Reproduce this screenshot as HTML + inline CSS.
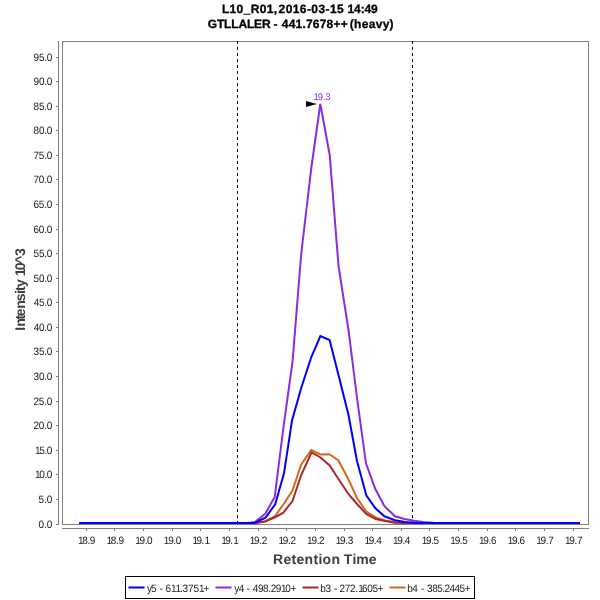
<!DOCTYPE html>
<html><head><meta charset="utf-8"><title>Chromatogram</title>
<style>
html,body{margin:0;padding:0;background:#fff;}
body{width:600px;height:600px;overflow:hidden;font-family:"Liberation Sans",sans-serif;}
svg{display:block;}
text{font-family:"Liberation Sans",sans-serif;text-rendering:geometricPrecision;white-space:pre;}
</style></head><body>
<svg width="600" height="600" viewBox="0 0 600 600">
<rect x="0" y="0" width="600" height="600" fill="#fff"/>
<g shape-rendering="crispEdges" fill="none" stroke="#808080" stroke-width="1">
<rect x="62.5" y="41.5" width="526" height="483"/>
<line x1="58.5" y1="41" x2="58.5" y2="525"/>
<line x1="62" y1="528.5" x2="589" y2="528.5"/>
<line x1="56" y1="524.5" x2="58" y2="524.5"/>
<line x1="56" y1="499.5" x2="58" y2="499.5"/>
<line x1="56" y1="474.5" x2="58" y2="474.5"/>
<line x1="56" y1="450.5" x2="58" y2="450.5"/>
<line x1="56" y1="425.5" x2="58" y2="425.5"/>
<line x1="56" y1="401.5" x2="58" y2="401.5"/>
<line x1="56" y1="376.5" x2="58" y2="376.5"/>
<line x1="56" y1="351.5" x2="58" y2="351.5"/>
<line x1="56" y1="327.5" x2="58" y2="327.5"/>
<line x1="56" y1="302.5" x2="58" y2="302.5"/>
<line x1="56" y1="278.5" x2="58" y2="278.5"/>
<line x1="56" y1="253.5" x2="58" y2="253.5"/>
<line x1="56" y1="229.5" x2="58" y2="229.5"/>
<line x1="56" y1="204.5" x2="58" y2="204.5"/>
<line x1="56" y1="179.5" x2="58" y2="179.5"/>
<line x1="56" y1="155.5" x2="58" y2="155.5"/>
<line x1="56" y1="130.5" x2="58" y2="130.5"/>
<line x1="56" y1="106.5" x2="58" y2="106.5"/>
<line x1="56" y1="81.5" x2="58" y2="81.5"/>
<line x1="56" y1="57.5" x2="58" y2="57.5"/>
<line x1="86.5" y1="529" x2="86.5" y2="531"/>
<line x1="114.5" y1="529" x2="114.5" y2="531"/>
<line x1="143.5" y1="529" x2="143.5" y2="531"/>
<line x1="172.5" y1="529" x2="172.5" y2="531"/>
<line x1="200.5" y1="529" x2="200.5" y2="531"/>
<line x1="229.5" y1="529" x2="229.5" y2="531"/>
<line x1="258.5" y1="529" x2="258.5" y2="531"/>
<line x1="286.5" y1="529" x2="286.5" y2="531"/>
<line x1="315.5" y1="529" x2="315.5" y2="531"/>
<line x1="344.5" y1="529" x2="344.5" y2="531"/>
<line x1="372.5" y1="529" x2="372.5" y2="531"/>
<line x1="401.5" y1="529" x2="401.5" y2="531"/>
<line x1="429.5" y1="529" x2="429.5" y2="531"/>
<line x1="458.5" y1="529" x2="458.5" y2="531"/>
<line x1="487.5" y1="529" x2="487.5" y2="531"/>
<line x1="515.5" y1="529" x2="515.5" y2="531"/>
<line x1="544.5" y1="529" x2="544.5" y2="531"/>
<line x1="573.5" y1="529" x2="573.5" y2="531"/>
</g>
<g shape-rendering="crispEdges" stroke="#000" stroke-width="1" stroke-dasharray="3,3">
<line x1="237.5" y1="41" x2="237.5" y2="524"/>
<line x1="412.5" y1="41" x2="412.5" y2="524"/>
</g>
<polyline fill="none" stroke="#d2691e" stroke-width="2" stroke-linejoin="miter" points="79.2,523 255,523 265,521.5 274.7,516.5 284,503.5 292.5,490.5 301,465 311.2,450 320.5,454.5 329.5,454.2 338.5,460.5 348.5,479.5 357,498 366.3,511.6 375.7,517.4 385,520.4 395,522 404.8,522.8 414,523 580,523"/>
<polyline fill="none" stroke="#a52a2a" stroke-width="2" stroke-linejoin="miter" points="79.2,523 255,523 265,521.5 274.5,517.5 283,513 292.5,501 301.2,475 311.5,452.5 320.5,457.5 329.7,465.5 338.5,479 348,493.5 357,504 366.3,514 375.7,519 385,521 394.5,522.7 404,523 580,523"/>
<polyline fill="none" stroke="#8a2be2" stroke-width="2" stroke-linejoin="miter" points="79.2,523 248,523 255,522 265.3,513.7 274.7,497 283.5,427 292.5,362 301.2,254 311.3,168 320.3,104 329.7,155 338.5,266 348.5,330 357,398 366,463.3 375.2,488.8 384.3,506 395,516.3 404.5,519 414,520.8 423,522 433,522.7 443,523 580,523"/>
<polyline fill="none" stroke="#0000ff" stroke-width="2" stroke-linejoin="miter" points="79.2,523 254.5,523 265.5,517.7 275.2,504.3 284,473.3 292,420.5 301.2,388 311.3,357 320.4,336 329.6,340 338.5,375 348.5,415 357,461 366.3,495.3 375.2,508 384.4,516.3 395,520.3 404.8,522 414,522.7 423,523 580,523"/>
<polygon points="306,101 317,104 306,107" fill="#000"/>
<text transform="translate(25,331) rotate(-90)" x="0.21 4.20 11.47 14.72 22.35 29.80 36.96 40.07 44.09 49.40 54.71 60.87 67.31 75.05" y="0" font-size="14" font-weight="bold" fill="#404040">Intensity 10^3</text>
<rect x="125.5" y="576.5" width="349" height="22" fill="#fff" stroke="#000" stroke-width="1" shape-rendering="crispEdges"/>
<line x1="128.5" y1="587.5" x2="144.5" y2="587.5" stroke="#0000ff" stroke-width="2"/>
<line x1="215.5" y1="587.5" x2="231.5" y2="587.5" stroke="#8a2be2" stroke-width="2"/>
<line x1="302.5" y1="587.5" x2="318.5" y2="587.5" stroke="#a52a2a" stroke-width="2"/>
<line x1="389.5" y1="587.5" x2="405.5" y2="587.5" stroke="#d2691e" stroke-width="2"/>
<text x="221.90 229.59 236.62 243.65 250.68 259.71 266.74 273.77 277.98 278.58 285.67 292.75 299.83 306.91 311.31 318.39 325.48 329.88 336.96 344.05 347.54 354.10 360.65 364.52 371.07" y="13.0" font-size="12" font-weight="bold" fill="#000" stroke="#000" stroke-width="0.3">L10_R01, 2016-03-15 14:49</text>
<text x="207.81 216.96 224.11 231.27 238.42 246.90 254.06 261.88 269.46 273.43 279.42 281.82 288.69 295.57 302.44 305.97 312.85 319.72 326.60 333.47 340.68 347.04 349.80 354.09 361.72 368.69 375.66 382.63 389.60" y="27.8" font-size="12" font-weight="bold" fill="#000" stroke="#000" stroke-width="0.3">GTLLALER - 441.7678++ (heavy)</text>
<text x="273.06 283.47 291.55 296.50 304.58 313.43 318.39 322.57 331.42 339.73 343.84 352.41 356.32 368.79" y="563.8" font-size="14" font-weight="bold" fill="#404040">Retention Time</text>
<text transform="translate(0,528.3) scale(1,1.07)" x="38.61 44.11 46.83" y="0" font-size="10" fill="#202020">0.0</text>
<text transform="translate(0,503.3) scale(1,1.07)" x="38.60 44.11 46.83" y="0" font-size="10" fill="#202020">5.0</text>
<text transform="translate(0,478.3) scale(1,1.07)" x="34.94 39.23 44.42 46.83" y="0" font-size="10" fill="#202020">10.0</text>
<text transform="translate(0,454.3) scale(1,1.07)" x="34.94 39.23 44.42 46.83" y="0" font-size="10" fill="#202020">15.0</text>
<text transform="translate(0,429.3) scale(1,1.07)" x="33.50 38.87 44.24 46.83" y="0" font-size="10" fill="#202020">20.0</text>
<text transform="translate(0,405.3) scale(1,1.07)" x="33.50 38.87 44.24 46.83" y="0" font-size="10" fill="#202020">25.0</text>
<text transform="translate(0,380.3) scale(1,1.07)" x="33.62 38.95 44.28 46.83" y="0" font-size="10" fill="#202020">30.0</text>
<text transform="translate(0,355.3) scale(1,1.07)" x="33.62 38.95 44.28 46.83" y="0" font-size="10" fill="#202020">35.0</text>
<text transform="translate(0,331.3) scale(1,1.07)" x="33.77 39.05 44.33 46.83" y="0" font-size="10" fill="#202020">40.0</text>
<text transform="translate(0,306.3) scale(1,1.07)" x="33.77 39.05 44.33 46.83" y="0" font-size="10" fill="#202020">45.0</text>
<text transform="translate(0,282.3) scale(1,1.07)" x="33.60 38.94 44.27 46.83" y="0" font-size="10" fill="#202020">50.0</text>
<text transform="translate(0,257.3) scale(1,1.07)" x="33.60 38.94 44.27 46.83" y="0" font-size="10" fill="#202020">55.0</text>
<text transform="translate(0,233.3) scale(1,1.07)" x="33.49 38.87 44.24 46.83" y="0" font-size="10" fill="#202020">60.0</text>
<text transform="translate(0,208.3) scale(1,1.07)" x="33.49 38.87 44.24 46.83" y="0" font-size="10" fill="#202020">65.0</text>
<text transform="translate(0,183.3) scale(1,1.07)" x="33.49 38.86 44.24 46.83" y="0" font-size="10" fill="#202020">70.0</text>
<text transform="translate(0,159.3) scale(1,1.07)" x="33.49 38.86 44.24 46.83" y="0" font-size="10" fill="#202020">75.0</text>
<text transform="translate(0,134.3) scale(1,1.07)" x="33.57 38.91 44.26 46.83" y="0" font-size="10" fill="#202020">80.0</text>
<text transform="translate(0,110.3) scale(1,1.07)" x="33.57 38.91 44.26 46.83" y="0" font-size="10" fill="#202020">85.0</text>
<text transform="translate(0,85.3) scale(1,1.07)" x="33.53 38.89 44.25 46.83" y="0" font-size="10" fill="#202020">90.0</text>
<text transform="translate(0,61.3) scale(1,1.07)" x="33.53 38.89 44.25 46.83" y="0" font-size="10" fill="#202020">95.0</text>
<text transform="translate(0,543.9) scale(1,1.07)" x="77.89 82.21 87.43 89.86" y="0" font-size="10" fill="#202020">18.9</text>
<text transform="translate(0,543.9) scale(1,1.07)" x="106.54 110.86 116.08 118.51" y="0" font-size="10" fill="#202020">18.9</text>
<text transform="translate(0,543.9) scale(1,1.07)" x="135.19 139.48 144.67 147.08" y="0" font-size="10" fill="#202020">19.0</text>
<text transform="translate(0,543.9) scale(1,1.07)" x="163.84 168.13 173.32 175.73" y="0" font-size="10" fill="#202020">19.0</text>
<text transform="translate(0,543.9) scale(1,1.07)" x="192.49 196.58 201.57 204.48" y="0" font-size="10" fill="#202020">19.1</text>
<text transform="translate(0,543.9) scale(1,1.07)" x="221.14 225.23 230.22 233.13" y="0" font-size="10" fill="#202020">19.1</text>
<text transform="translate(0,543.9) scale(1,1.07)" x="249.79 254.12 259.35 261.79" y="0" font-size="10" fill="#202020">19.2</text>
<text transform="translate(0,543.9) scale(1,1.07)" x="278.44 282.77 288.00 290.44" y="0" font-size="10" fill="#202020">19.2</text>
<text transform="translate(0,543.9) scale(1,1.07)" x="307.09 311.42 316.65 319.09" y="0" font-size="10" fill="#202020">19.2</text>
<text transform="translate(0,543.9) scale(1,1.07)" x="335.74 340.05 345.25 347.68" y="0" font-size="10" fill="#202020">19.3</text>
<text transform="translate(0,543.9) scale(1,1.07)" x="364.39 368.65 373.81 376.18" y="0" font-size="10" fill="#202020">19.4</text>
<text transform="translate(0,543.9) scale(1,1.07)" x="393.04 397.30 402.46 404.83" y="0" font-size="10" fill="#202020">19.4</text>
<text transform="translate(0,543.9) scale(1,1.07)" x="421.69 425.99 431.19 433.61" y="0" font-size="10" fill="#202020">19.5</text>
<text transform="translate(0,543.9) scale(1,1.07)" x="450.34 454.64 459.84 462.26" y="0" font-size="10" fill="#202020">19.5</text>
<text transform="translate(0,543.9) scale(1,1.07)" x="478.99 483.30 488.50 490.93" y="0" font-size="10" fill="#202020">19.6</text>
<text transform="translate(0,543.9) scale(1,1.07)" x="507.64 511.95 517.15 519.58" y="0" font-size="10" fill="#202020">19.6</text>
<text transform="translate(0,543.9) scale(1,1.07)" x="536.29 540.62 545.85 548.29" y="0" font-size="10" fill="#202020">19.7</text>
<text transform="translate(0,543.9) scale(1,1.07)" x="564.94 569.27 574.50 576.94" y="0" font-size="10" fill="#202020">19.7</text>
<text x="313.58 317.77 322.83 325.23" y="100.0" font-size="9.5" fill="#8a2be2">19.3</text>
<text transform="translate(0,591.9) scale(1,1.07)" x="146.88 151.11 156.83 159.56 164.02 165.49 170.92 175.44 179.97 182.61 188.03 193.45 198.88 203.40" y="0" font-size="10" fill="#222222">y5 - 611.3751+</text>
<text transform="translate(0,591.9) scale(1,1.07)" x="234.23 238.73 244.14 246.56 251.16 252.77 257.94 263.10 268.26 270.65 275.81 280.97 285.24 290.40" y="0" font-size="10" fill="#222222">y4 - 498.2910+</text>
<text transform="translate(0,591.9) scale(1,1.07)" x="320.36 325.38 331.17 333.96 338.23 339.50 344.73 349.96 355.19 358.33 361.96 367.19 372.42 377.65" y="0" font-size="10" fill="#222222">b3 - 272.1605+</text>
<text transform="translate(0,591.9) scale(1,1.07)" x="407.36 412.23 418.14 421.06 425.59 427.12 432.16 437.20 442.24 444.49 449.53 454.57 459.61 464.65" y="0" font-size="10" fill="#222222">b4 - 385.2445+</text>
</svg>
</body></html>
